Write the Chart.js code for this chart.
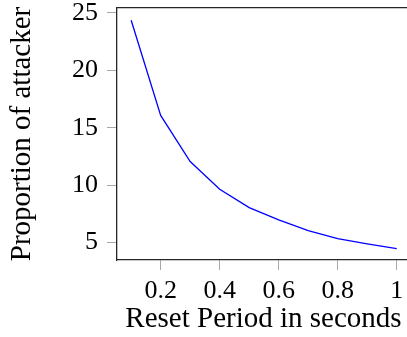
<!DOCTYPE html>
<html>
<head>
<meta charset="utf-8">
<script src="https://cdn.jsdelivr.net/npm/chart.js@4.4.1/dist/chart.umd.min.js"></script>
<style>
    html, body { margin: 0; padding: 0; background: #fff; overflow: hidden; }
    #chart { display: block; }
</style>
</head>
<body>
<canvas id="chart" width="410" height="337"></canvas>
<script>
// Values
const resetPeriods = [0.1, 0.2, 0.3, 0.4, 0.5, 0.6, 0.7, 0.8, 0.9, 1.0];
const attackerProportion = [24.35, 16.07, 12.06, 9.65, 8.05, 6.98, 6.05, 5.35, 4.89, 4.48];

const xTicks = [0.2, 0.4, 0.6, 0.8, 1];
const xTickLabels = ['0.2', '0.4', '0.6', '0.8', '1'];
const yTicks = [5, 10, 15, 20, 25];
const yTickLabels = ['5', '10', '15', '20', '25'];

const serif = "'Liberation Serif', 'DejaVu Serif', serif";
const tickGrey = '#a8a8a8';
const axisDark = '#262626';

// fixed axis sizes so the plot box lands where the reference has it
function fixSize(prop, size) {
    return (scale) => {
        scale[prop] = size;
        scale.paddingTop = 0;
        scale.paddingBottom = 0;
        scale.paddingLeft = 0;
        scale.paddingRight = 0;
    };
}

const ctx = document.getElementById('chart').getContext('2d');
new Chart(ctx, {
    type: 'line',
    data: {
        datasets: [{
            label: 'Proportion of attacker',
            data: resetPeriods.map((x, i) => ({ x: x, y: attackerProportion[i] })),
            borderColor: '#0000ff',
            borderWidth: 1.3,
            pointRadius: 0,
            tension: 0,
            fill: false
        }]
    },
    options: {
        responsive: false,
        animation: false,
        devicePixelRatio: 1,
        layout: { padding: 0 },
        plugins: {
            legend: { display: false },
            tooltip: { enabled: false }
        },
        scales: {
            x: {
                type: 'linear',
                position: 'bottom',
                min: 0.052,
                max: 1.045,
                afterBuildTicks: (scale) => {
                    scale.ticks = xTicks.map(v => ({ value: v }));
                },
                afterFit: fixSize('height', 77),
                ticks: {
                    color: '#000',
                    font: { family: serif, size: 26 },
                    padding: 6,
                    maxRotation: 0,
                    autoSkip: false,
                    callback: (v, i) => xTickLabels[i]
                },
                grid: {
                    drawOnChartArea: false,
                    drawTicks: true,
                    tickLength: 10,
                    tickColor: tickGrey,
                    tickWidth: 1
                },
                border: { display: true, color: axisDark, width: 1.3 },
                title: {
                    display: true,
                    text: 'Reset Period in seconds',
                    color: '#000',
                    font: { family: serif, size: 29 },
                    padding: { top: 0, bottom: 0 }
                }
            },
            xTop: {
                type: 'linear',
                position: 'top',
                min: 0.052,
                max: 1.045,
                afterFit: fixSize('height', 8),
                ticks: { display: false },
                grid: { display: false },
                border: { display: true, color: axisDark, width: 1.3 }
            },
            y: {
                type: 'linear',
                position: 'left',
                min: 3.49,
                max: 25.42,
                afterBuildTicks: (scale) => {
                    scale.ticks = yTicks.map(v => ({ value: v }));
                },
                afterFit: fixSize('width', 117),
                ticks: {
                    color: '#000',
                    font: { family: serif, size: 26 },
                    padding: 9,
                    autoSkip: false,
                    callback: (v, i) => yTickLabels[i]
                },
                grid: {
                    drawOnChartArea: false,
                    drawTicks: true,
                    tickLength: 10,
                    tickColor: tickGrey,
                    tickWidth: 1
                },
                border: { display: true, color: axisDark, width: 1.3 },
                title: {
                    display: true,
                    text: 'Proportion of attacker',
                    color: '#000',
                    font: { family: serif, size: 29 },
                    padding: { top: 5, bottom: 0 }
                }
            }
        }
    }
});
</script>
</body>
</html>
